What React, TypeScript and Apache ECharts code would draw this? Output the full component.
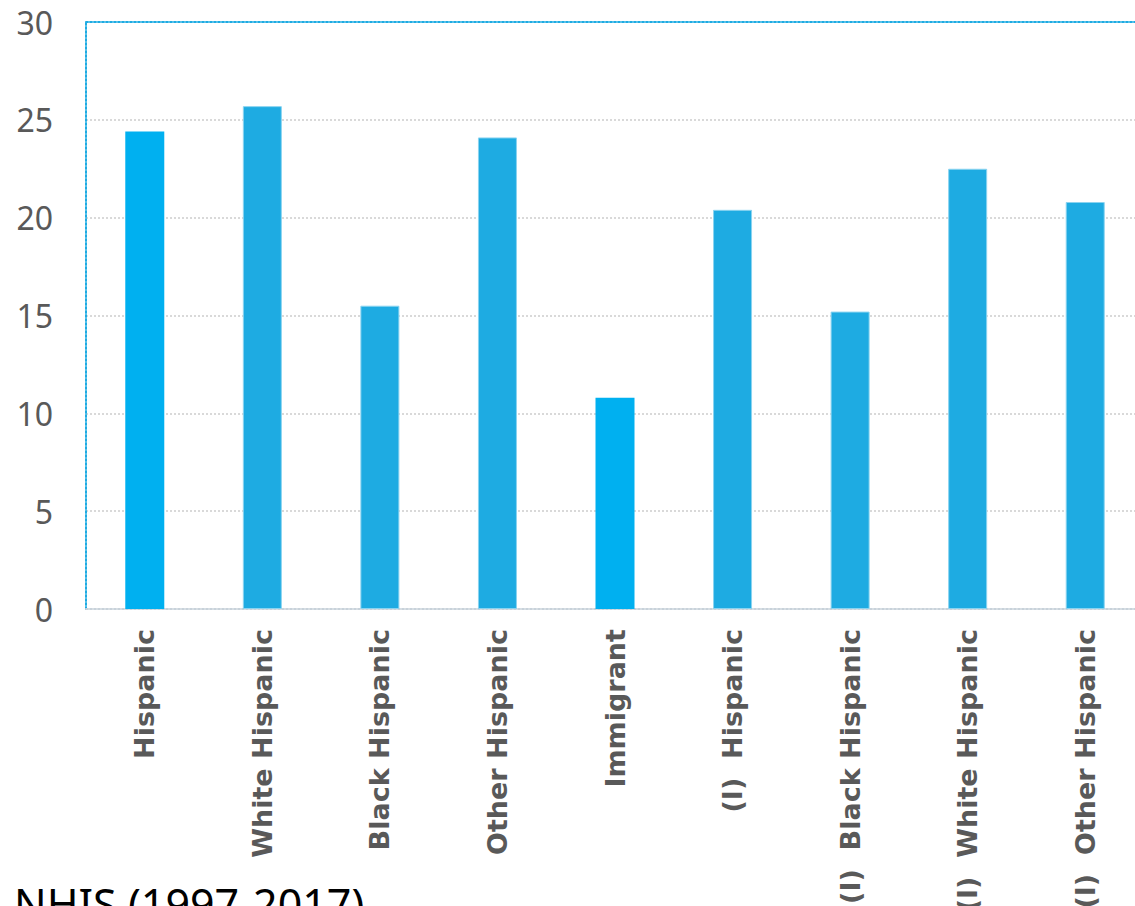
import React, { useEffect, useRef } from "react";
import * as echarts from "echarts";

const categories = [
  "Hispanic",
  "White Hispanic",
  "Black Hispanic",
  "Other Hispanic",
  "Immigrant",
  "(I)  Hispanic",
  "(I)  Black Hispanic",
  "(I)  White Hispanic",
  "(I)  Other Hispanic",
];
const values = [24.4, 25.7, 15.5, 24.1, 10.8, 20.4, 15.2, 22.5, 20.8];
const highlighted = [true, false, false, false, true, false, false, false, false];
const yTicks = [0, 5, 10, 15, 20, 25, 30];
const title = "NHIS (1997-2017)";

export default function App() {
  const ref = useRef<HTMLDivElement>(null);
  useEffect(() => {
    if (!ref.current) return;
    const chart = echarts.init(ref.current, undefined, { renderer: "svg", width: 1135, height: 906 });
    chart.setOption({
      animation: false,
      backgroundColor: "#ffffff",
      grid: {
        left: 86,
        top: 22,
        width: 1058,
        height: 587,
        containLabel: false,
        outerBoundsMode: "none",
      },
      xAxis: [
        {
          type: "category",
          data: categories,
          axisLine: { show: true, lineStyle: { color: "#C8D2DA", width: 2, type: "dotted" } },
          axisTick: { show: false },
          axisLabel: {
            rotate: 90,
            margin: 20,
            color: "#595959",
            fontSize: 27,
            fontWeight: "bold",
            fontFamily: "DejaVu Sans",
            interval: 0,
          },
        },
        {
          type: "category",
          position: "top",
          data: categories,
          axisLine: { show: true, lineStyle: { color: "#1EABE2", width: 2, type: "dotted" } },
          axisTick: { show: false },
          axisLabel: { show: false },
        },
      ],
      yAxis: {
        type: "value",
        min: yTicks[0],
        max: yTicks[yTicks.length - 1],
        interval: 5,
        axisLine: { show: true, lineStyle: { color: "#1EABE2", width: 2, type: "dotted" } },
        axisTick: { show: false },
        axisLabel: {
          color: "#595959",
          fontSize: 32,
          fontFamily: "Noto Sans",
          margin: 33,
        },
        splitLine: { show: true, lineStyle: { color: "#D9D9D9", width: 2, type: "dotted" } },
      },
      series: [
        {
          type: "bar",
          xAxisIndex: 0,
          barWidth: 39,
          data: values.map((v, i) => ({
            value: v,
            itemStyle: highlighted[i]
              ? { color: "#00B0F0" }
              : { color: "#1EABE2", borderColor: "#8AD3F0", borderWidth: 1 },
          })),
        },
      ],
      graphic: [
        {
          type: "text",
          left: 14,
          top: 882,
          style: {
            text: title,
            fontSize: 43,
            fontFamily: "Noto Sans",
            fill: "#000000",
            letterSpacing: 2,
          },
        },
      ],
    });
    return () => chart.dispose();
  }, []);
  return (
    <div
      ref={ref}
      style={{ position: "fixed", left: 0, top: 0, width: 1135, height: 906, overflow: "hidden" }}
    />
  );
}
